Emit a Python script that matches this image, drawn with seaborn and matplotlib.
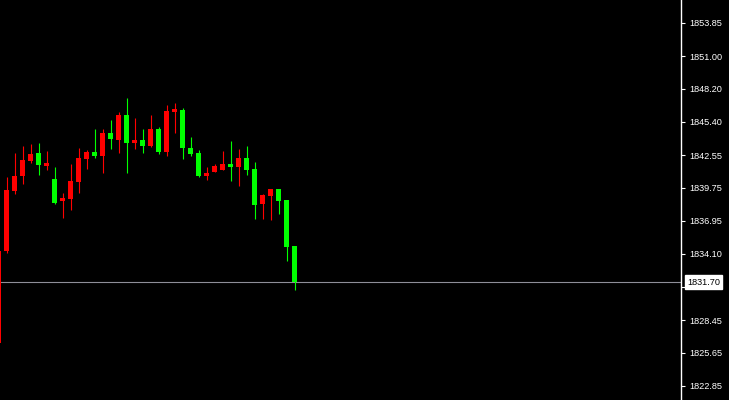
import matplotlib
matplotlib.use("Agg")
import numpy as np
import pandas as pd
import seaborn as sns
import matplotlib.pyplot as plt
from matplotlib.transforms import blended_transform_factory

# ---- data ----
opens  = [1826.50, 1834.35, 1839.48, 1840.76, 1842.04, 1842.72, 1841.61, 1840.50,
          1838.62, 1838.80, 1840.25, 1842.21, 1842.81, 1842.47, 1844.43, 1843.83,
          1845.97, 1843.58, 1843.83, 1843.32, 1844.77, 1842.81, 1846.23, 1846.40,
          1843.15, 1842.72, 1840.76, 1841.10, 1841.27, 1841.78, 1841.53, 1842.30,
          1841.36, 1838.37, 1839.05, 1839.65, 1838.71, 1834.78]
highs  = [1834.35, 1840.67, 1842.72, 1843.32, 1843.49, 1843.58, 1842.89, 1841.53,
          1839.31, 1841.78, 1843.15, 1842.98, 1844.77, 1844.77, 1845.54, 1846.23,
          1847.42, 1845.71, 1844.77, 1845.97, 1844.94, 1846.82, 1846.99, 1846.57,
          1844.09, 1842.98, 1841.53, 1841.78, 1842.89, 1843.75, 1843.07, 1843.32,
          1841.96, 1839.22, 1839.65, 1839.65, 1838.71, 1834.78]
lows   = [1826.40, 1834.18, 1839.22, 1840.08, 1841.87, 1840.85, 1841.27, 1838.37,
          1837.17, 1837.86, 1839.31, 1841.36, 1842.30, 1841.02, 1843.07, 1842.72,
          1841.02, 1843.07, 1842.72, 1843.20, 1842.64, 1842.47, 1844.43, 1842.21,
          1842.47, 1840.67, 1840.42, 1841.10, 1841.27, 1840.33, 1839.91, 1840.85,
          1837.09, 1837.09, 1837.00, 1837.51, 1833.50, 1831.02]
closes = [1834.35, 1839.56, 1840.76, 1842.13, 1842.64, 1841.70, 1841.87, 1838.45,
          1838.88, 1840.33, 1842.30, 1842.81, 1842.47, 1844.43, 1843.92, 1845.97,
          1843.58, 1843.83, 1843.32, 1844.77, 1842.81, 1846.31, 1846.48, 1843.15,
          1842.64, 1840.76, 1841.02, 1841.61, 1841.78, 1841.53, 1842.30, 1841.27,
          1838.28, 1839.14, 1839.65, 1838.62, 1834.70, 1831.71]
tick_values = [1853.85, 1851.00, 1848.20, 1845.40, 1842.55, 1839.75,
               1836.95, 1834.10, 1831.30, 1828.45, 1825.65, 1822.85]
tick_labels = ["1853.85", "1851.00", "1848.20", "1845.40", "1842.55", "1839.75",
               "1836.95", "1834.10", "1831.30", "1828.45", "1825.65", "1822.85"]
current_price = 1831.70
current_label = "1831.70"

# ---- style ----
sns.set_theme(style="dark", rc={
    "axes.facecolor": "black", "figure.facecolor": "black",
    "axes.edgecolor": "white", "xtick.color": "white", "ytick.color": "white",
})
plt.rcParams["font.family"] = ["Liberation Sans", "DejaVu Sans"]

df = pd.DataFrame({"idx": np.arange(len(opens)), "open": opens, "high": highs,
                   "low": lows, "close": closes})
df["up"] = df["close"] >= df["open"]
df["color"] = np.where(df["up"], "#ff0000", "#00ff00")
df["bottom"] = df[["open", "close"]].min(axis=1)
df["height"] = (df["close"] - df["open"]).abs().clip(lower=0.09)

W, H = 729, 400
fig = plt.figure(figsize=(W / 100, H / 100), dpi=100)
ax = fig.add_axes([0, 0, 681 / W, 1])
ax.set_facecolor("black")

# wicks and bodies
ax.vlines(df["idx"], df["low"], df["high"], colors=df["color"], linewidth=0.8, zorder=2)
ax.bar(df["idx"], df["height"], bottom=df["bottom"], width=0.625,
       color=df["color"], linewidth=0, zorder=3)

# current price line
ax.axhline(current_price, color="#8e8e98", linewidth=0.8, zorder=1)

ax.set_xlim(0.1875, 0.1875 + 681 / 8)
ax.set_ylim(1821.63, 1855.79)

for s in ["left", "top", "bottom"]:
    ax.spines[s].set_visible(False)
ax.spines["right"].set_color("white")
ax.spines["right"].set_linewidth(1.0)
ax.set_xticks([])
ax.yaxis.tick_right()
ax.set_yticks(tick_values)
ax.set_yticklabels(tick_labels, fontsize=6.6, color="white")
ax.tick_params(axis="y", direction="out", length=3, width=0.8, color="white", pad=3)
ax.grid(False)

# current price label box
tr = blended_transform_factory(ax.transAxes, ax.transData)
ax.text(1.0 + 6 / 681, current_price, current_label, transform=tr,
        fontsize=6.6, color="black", va="center", ha="left", zorder=10,
        clip_on=False,
        bbox=dict(boxstyle="square,pad=0.25", facecolor="white", edgecolor="white"))

fig.savefig("out.png", dpi=100, facecolor="black")
